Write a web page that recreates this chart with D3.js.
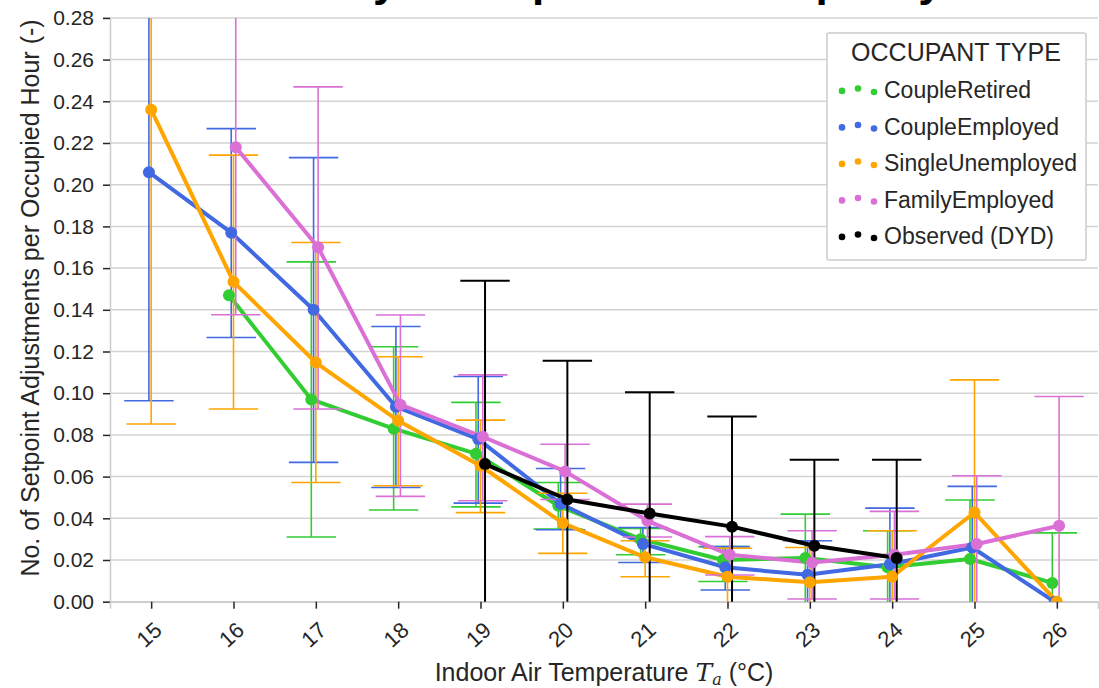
<!DOCTYPE html>
<html>
<head>
<meta charset="utf-8">
<script src="https://cdn.jsdelivr.net/npm/d3@7"></script>
<style>
  body { margin: 0; background: #fff; }
  svg { display: block; font-family: "Liberation Sans", Arial, sans-serif; }
</style>
</head>
<body>
<div id="chart"></div>
<script>
// temperature bins (x axis)
const temps = [15, 16, 17, 18, 19, 20, 21, 22, 23, 24, 25, 26];
const yTicks = [0, 0.02, 0.04, 0.06, 0.08, 0.10, 0.12, 0.14, 0.16, 0.18, 0.20, 0.22, 0.24, 0.26, 0.28];

// point estimates, null = no data for that bin
const retiredMean  = [null, 0.147, 0.097, 0.083, 0.071, 0.046, 0.030, 0.020, 0.021, 0.0165, 0.0205, 0.009];
const employedMean = [0.206, 0.177, 0.140, 0.0935, 0.078, 0.047, 0.0277, 0.0165, 0.0129, 0.018, 0.026, 0.0];
const singleMean   = [0.236, 0.1534, 0.1147, 0.0868, 0.0652, 0.0377, 0.0213, 0.012, 0.0093, 0.012, 0.0428, 0.0];
const familyMean   = [null, 0.218, 0.170, 0.0945, 0.0791, 0.0625, 0.0388, 0.0225, 0.0188, 0.0225, 0.0277, 0.0364];
const observedMean = [null, null, null, null, 0.066, 0.049, 0.0423, 0.036, 0.0268, 0.021, null, null];

// confidence intervals (low / high)
const retiredLow  = [null, null, 0.031, 0.044, 0.0455, 0.0348, 0.0225, 0.0097, -0.01, -0.01, -0.01, -0.01];
const retiredHigh = [null, null, 0.163, 0.1223, 0.0956, 0.0572, 0.0351, 0.0264, 0.042, 0.034, 0.0488, 0.033];
const employedLow  = [0.0964, 0.1267, 0.0668, 0.0548, 0.0473, 0.0345, 0.0188, 0.0056, -0.01, -0.01, -0.01, null];
const employedHigh = [0.30, 0.2269, 0.213, 0.132, 0.108, 0.0639, 0.0356, 0.0264, 0.0292, 0.0449, 0.0553, null];
const singleLow  = [0.0852, 0.0924, 0.0572, 0.0556, 0.0427, 0.0232, 0.012, -0.01, -0.01, -0.01, -0.01, null];
const singleHigh = [0.33, 0.2142, 0.1723, 0.1175, 0.0871, 0.052, 0.0292, 0.0256, 0.026, 0.034, 0.1064, null];
const familyLow  = [null, 0.1376, 0.0924, 0.0505, 0.0484, 0.049, 0.031, 0.0128, 0.0013, 0.0013, -0.01, -0.01];
const familyHigh = [null, 0.31, 0.2469, 0.1375, 0.1088, 0.0755, 0.0468, 0.0312, 0.034, 0.0433, 0.0604, 0.0984];
const observedLow  = [null, null, null, null, -0.02, -0.02, -0.02, -0.02, -0.02, -0.02, null, null];
const observedHigh = [null, null, null, null, 0.1539, 0.1156, 0.1004, 0.0888, 0.0681, 0.0681, null, null];

const typeNames = ["CoupleRetired", "CoupleEmployed", "SingleUnemployed", "FamilyEmployed", "Observed (DYD)"];
const typeColors = ["#32cd32", "#4169e1", "#ffa500", "#da70d6", "#000000"];

const series = [
  { mean: retiredMean, low: retiredLow, high: retiredHigh },
  { mean: employedMean, low: employedLow, high: employedHigh },
  { mean: singleMean, low: singleLow, high: singleHigh },
  { mean: familyMean, low: familyLow, high: familyHigh },
  { mean: observedMean, low: observedLow, high: observedHigh }
].map((s, i) => Object.assign(s, { name: typeNames[i], color: typeColors[i] }));

const width = 1099, height = 688;
const plotLeft = 110, plotRight = 1098, plotTop = 17.9, plotBottom = 601.7;
const dodge = 0.11;      // seaborn-like hue dodge, in data units
const capHalf = 0.3;     // capsize / 2, data units

const svg = d3.select("#chart").append("svg")
  .attr("width", width)
  .attr("height", height);

const x = d3.scaleLinear().domain([14.5, 26.5]).range([plotLeft, plotRight]);
const y = d3.scaleLinear().domain([0, 0.28]).range([plotBottom, plotTop]);
const offset = i => (i - (series.length - 1) / 2) * dodge / (series.length - 1);

// title, mostly cropped off the top
svg.append("text")
  .attr("x", 560).attr("y", -4)
  .attr("text-anchor", "middle")
  .attr("font-size", 44).attr("font-weight", "bold")
  .attr("fill", "#000")
  .text("Sensitivity of Setpoint to Occupancy");

svg.append("defs").append("clipPath").attr("id", "plotclip")
  .append("rect")
  .attr("x", plotLeft).attr("y", plotTop)
  .attr("width", plotRight - plotLeft).attr("height", plotBottom - plotTop);

// grid
svg.append("g").selectAll("line")
  .data(yTicks)
  .enter().append("line")
  .attr("x1", plotLeft).attr("x2", plotRight)
  .attr("y1", d => y(d)).attr("y2", d => y(d))
  .attr("stroke", "#d3d3d3")
  .attr("stroke-width", 1.5);

// axes
const yAxis = svg.append("g")
  .attr("transform", "translate(" + plotLeft + ",0)")
  .call(d3.axisLeft(y).tickValues(yTicks).tickFormat(d3.format(".2f")).tickSize(7).tickPadding(9));
yAxis.select(".domain").attr("stroke", "#cccccc").attr("stroke-width", 1.5);
yAxis.selectAll(".tick line").attr("stroke", "#262626").attr("stroke-width", 1.5);
yAxis.selectAll(".tick text").attr("font-size", 21).attr("fill", "#262626")
  .attr("font-family", "Liberation Sans, Arial, sans-serif");

const xAxis = svg.append("g")
  .attr("transform", "translate(0," + plotBottom + ")")
  .call(d3.axisBottom(x).tickValues(temps).tickSize(7).tickFormat(""));
xAxis.select(".domain").attr("stroke", "#cccccc").attr("stroke-width", 1.5);
xAxis.selectAll(".tick line").attr("stroke", "#262626").attr("stroke-width", 1.5);

svg.append("g").selectAll("text")
  .data(temps)
  .enter().append("text")
  .attr("transform", d => "translate(" + (x(d) - 2) + "," + (plotBottom + 33) + ") rotate(-42)")
  .attr("text-anchor", "middle")
  .attr("dominant-baseline", "central")
  .attr("font-size", 22)
  .attr("fill", "#262626")
  .text(d => d);

// axis labels
const xLabel = svg.append("text")
  .attr("x", 604).attr("y", 681)
  .attr("text-anchor", "middle")
  .attr("font-size", 25)
  .attr("fill", "#262626");
xLabel.append("tspan").text("Indoor Air Temperature ");
xLabel.append("tspan").attr("font-family", "DejaVu Serif, serif").attr("font-style", "italic").text("T");
xLabel.append("tspan").attr("font-family", "DejaVu Serif, serif").attr("font-style", "italic")
  .attr("font-size", 16).attr("dy", 4).text("a");
xLabel.append("tspan").attr("dy", -4).text(" (°C)");

svg.append("text")
  .attr("transform", "translate(39,298) rotate(-90)")
  .attr("text-anchor", "middle")
  .attr("font-size", 25)
  .attr("fill", "#262626")
  .text("No. of Setpoint Adjustments per Occupied Hour (-)");

// marks
const plot = svg.append("g").attr("clip-path", "url(#plotclip)");

series.forEach((s, i) => {
  const pts = temps.map((t, k) => ({ t: t, v: s.mean[k], lo: s.low[k], hi: s.high[k] }));
  const xo = d => x(d.t + offset(i));

  plot.append("path")
    .datum(pts.filter(d => d.v !== null))
    .attr("fill", "none")
    .attr("stroke", s.color)
    .attr("stroke-width", 4)
    .attr("stroke-linejoin", "round")
    .attr("d", d3.line().x(xo).y(d => y(d.v)));

  const bars = pts.filter(d => d.lo !== null && d.hi !== null);
  const eb = plot.append("g")
    .attr("stroke", s.color)
    .attr("stroke-width", i === 4 ? 2 : 1.6);
  eb.selectAll(".stem").data(bars).enter().append("line")
    .attr("x1", xo).attr("x2", xo)
    .attr("y1", d => y(d.lo)).attr("y2", d => y(d.hi));
  eb.selectAll(".capHi").data(bars).enter().append("line")
    .attr("x1", d => x(d.t + offset(i) - capHalf)).attr("x2", d => x(d.t + offset(i) + capHalf))
    .attr("y1", d => y(d.hi)).attr("y2", d => y(d.hi));
  eb.selectAll(".capLo").data(bars).enter().append("line")
    .attr("x1", d => x(d.t + offset(i) - capHalf)).attr("x2", d => x(d.t + offset(i) + capHalf))
    .attr("y1", d => y(d.lo)).attr("y2", d => y(d.lo));
});

series.forEach((s, i) => {
  plot.append("g").selectAll("circle")
    .data(temps.map((t, k) => ({ t: t, v: s.mean[k] })).filter(d => d.v !== null))
    .enter().append("circle")
    .attr("cx", d => x(d.t + offset(i)))
    .attr("cy", d => y(d.v))
    .attr("r", 6)
    .attr("fill", s.color);
});

// legend
const legend = svg.append("g").attr("transform", "translate(827,33)");
legend.append("rect")
  .attr("width", 259).attr("height", 227)
  .attr("rx", 2)
  .attr("fill", "#fff")
  .attr("stroke", "#cccccc")
  .attr("stroke-width", 1.5);
legend.append("text")
  .attr("x", 129).attr("y", 28)
  .attr("text-anchor", "middle")
  .attr("font-size", 25)
  .attr("fill", "#262626")
  .text("OCCUPANT TYPE");

const dotOffsets = [0.375, 0.5, 0.3125];
const rows = legend.selectAll(".row")
  .data(series)
  .enter().append("g")
  .attr("transform", (d, i) => "translate(0," + (57 + i * 36.5) + ")");
rows.selectAll("circle")
  .data(d => dotOffsets.map((o, j) => ({ o: o, j: j, color: d.color })))
  .enter().append("circle")
  .attr("cx", d => 15 + d.j * 16)
  .attr("cy", d => 8 - d.o * 19)
  .attr("r", 3.3)
  .attr("fill", d => d.color);
rows.append("text")
  .attr("x", 57).attr("y", 8)
  .attr("font-size", 23)
  .attr("fill", "#262626")
  .text(d => d.name);
</script>
</body>
</html>
